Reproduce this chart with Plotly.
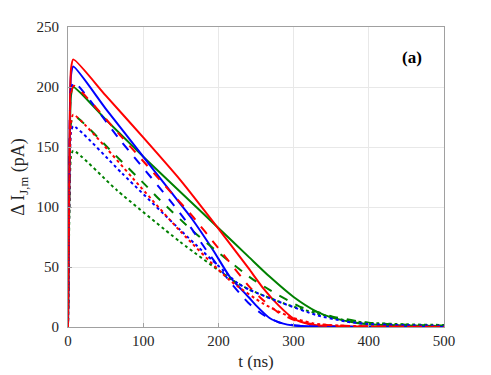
import plotly.graph_objects as go

# time samples (ns) and current values (pA)
t_rs = [0, 2, 4, 7, 50, 100, 150, 200, 240, 260, 280, 300, 320, 340, 400, 500]
i_rs = [0, 150, 215, 223, 193, 158, 122, 82, 49, 32, 18, 7, 2.5, 1, 0.3, 0]

t_bs = [0, 2, 4, 7, 50, 100, 135, 165, 193, 215, 240, 250, 268, 285, 300, 330, 400, 500]
i_bs = [0, 145, 210, 217, 182, 142, 114, 90, 64, 42, 25, 18, 7.5, 3, 1.2, 0.3, 0, 0]

t_gs = [0, 2, 4, 7, 50, 100, 147, 200, 241, 268, 300, 330, 350, 375, 400, 450, 500]
i_gs = [0, 135, 193, 200, 173, 142, 114, 82.5, 58, 42, 25, 13, 8, 4.4, 2.2, 1.2, 0.8]

t_rd = [0, 2, 4, 8, 69, 142, 162, 202, 242, 260, 280, 300, 320, 350, 400, 500]
i_rd = [0, 135, 195, 201, 160, 108.6, 95, 64, 33, 22, 12, 6, 3, 1.5, 0.5, 0.2]

t_bd = [0, 2, 4, 8, 69, 135, 162, 184, 215, 240, 260, 280, 300, 330, 400, 500]
i_bd = [0, 140, 198, 204, 156, 106, 84, 64, 38, 20, 10, 4, 1.5, 0.5, 0.2, 0]

t_gd = [0, 2, 4, 8, 60, 105, 122, 166, 200, 244, 268, 308, 330, 352, 400, 450, 500]
i_gd = [0, 120, 170, 176, 145, 117, 106, 80, 62, 40.5, 31, 17, 12.8, 8.6, 3.5, 1.8, 1.2]

t_rdo = [0, 2, 4, 7, 96, 149, 215, 259, 295, 326, 360, 400, 500]
i_rdo = [0, 120, 170, 177, 117, 80, 39, 19.7, 8.6, 3, 1.2, 0.5, 0.2]

t_bdo = [0, 2, 4, 7, 72, 149, 226, 242, 286, 330, 370, 400, 450, 500]
i_bdo = [0, 115, 162, 167.5, 128, 81, 36.4, 30.8, 19.7, 10, 4.5, 2.5, 1.5, 1]

t_gdo = [0, 2, 4, 7, 65, 149, 219, 242, 290, 330, 370, 400, 450, 500]
i_gdo = [0, 100, 142, 147, 114, 71, 39, 31, 19, 11.4, 5.5, 3.5, 2.2, 1.7]

x_ticks = [0, 100, 200, 300, 400, 500]
y_ticks = [0, 50, 100, 150, 200, 250]

series = [
    (t_gs, i_gs, "#008000", "solid"),
    (t_bs, i_bs, "#0000ff", "solid"),
    (t_rs, i_rs, "#ff0000", "solid"),
    (t_gd, i_gd, "#008000", "dash"),
    (t_bd, i_bd, "#0000ff", "dash"),
    (t_rd, i_rd, "#ff0000", "dash"),
    (t_gdo, i_gdo, "#008000", "dot"),
    (t_bdo, i_bdo, "#0000ff", "dot"),
    (t_rdo, i_rdo, "#ff0000", "dot"),
]

FONT = "Times New Roman, Liberation Serif, serif"

fig = go.Figure()
for t, i, c, d in series:
    fig.add_trace(go.Scatter(x=t, y=i, mode="lines",
                             line=dict(color=c, dash=d, width=2, shape="spline", smoothing=0.6),
                             showlegend=False, hoverinfo="skip"))

axis_common = dict(
    showgrid=True, gridcolor="#e8e8e8", gridwidth=1,
    showline=True, linecolor="#a0a0a0", linewidth=1, mirror=True,
    ticks="inside", ticklen=4, tickcolor="#a0a0a0",
    zeroline=False, automargin=False,
    tickfont=dict(family=FONT, size=15, color="#262626"),
)

# the page body has an 8px margin, so the figure is sized to fit the window
fig.update_layout(
    width=483, height=367,
    margin=dict(l=60, r=47, t=19, b=48),
    paper_bgcolor="white", plot_bgcolor="white",
    font=dict(family=FONT),
    xaxis=dict(range=[0, 500], tickvals=x_ticks,
               title=dict(text="t (ns)", font=dict(family=FONT, size=17, color="#262626"), standoff=7),
               **axis_common),
    yaxis=dict(range=[0, 250], tickvals=y_ticks, ticklabelstandoff=5,
               title=dict(text="Δ I<sub>J,m</sub> (pA)", font=dict(family=FONT, size=18, color="#262626"), standoff=12),
               **axis_common),
    annotations=[dict(x=458, y=225, xref="x", yref="y", text="<b>(a)</b>", showarrow=False,
                      font=dict(family=FONT, size=17, color="black"))],
)

fig.write_html("out.html")
